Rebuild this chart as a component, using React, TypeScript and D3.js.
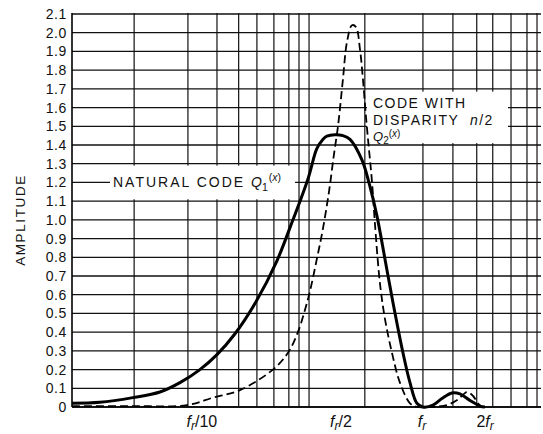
import React from "react";
import * as d3 from "d3";

// ---- data (frequency in units of f_r, amplitude) ----
const q1Freq = [0.0152, 0.0212, 0.0314, 0.0434, 0.0551, 0.0699, 0.0857, 0.106, 0.136, 0.175, 0.205, 0.254, 0.282, 0.303, 0.318, 0.35, 0.385, 0.419, 0.483, 0.531, 0.578, 0.636, 0.699, 0.788, 0.857, 0.931, 1.0, 1.127, 1.254, 1.413, 1.555, 1.753, 1.973, 2.095];
const q1Amp = [0.02, 0.025, 0.05, 0.08, 0.13, 0.2, 0.28, 0.39, 0.56, 0.78, 0.96, 1.22, 1.38, 1.43, 1.447, 1.455, 1.45, 1.43, 1.32, 1.18, 1.02, 0.79, 0.56, 0.29, 0.13, 0.02, 0.0, 0.01, 0.045, 0.075, 0.07, 0.035, 0.005, 0.0];

const q2Freq = [0.0152, 0.0303, 0.0599, 0.0817, 0.1127, 0.167, 0.2, 0.225, 0.245, 0.26, 0.282, 0.303, 0.326, 0.346, 0.363, 0.385, 0.404, 0.429, 0.45, 0.472, 0.489, 0.507, 0.525, 0.545, 0.564, 0.599, 0.636, 0.691, 0.76, 0.857, 0.931, 1.087, 1.33, 1.518, 1.69, 1.815, 1.928, 2.022];
const q2Amp = [0.005, 0.005, 0.01, 0.05, 0.09, 0.2, 0.29, 0.4, 0.52, 0.62, 0.79, 0.95, 1.15, 1.35, 1.5, 1.75, 1.95, 2.04, 2.03, 1.91, 1.75, 1.55, 1.38, 1.2, 0.98, 0.66, 0.47, 0.29, 0.13, 0.02, 0.0, 0.0, 0.01, 0.04, 0.08, 0.06, 0.02, 0.0];

const gridFreqs = [0.0319, 0.0606, 0.0857, 0.111, 0.138, 0.169, 0.202, 0.228, 0.257, 0.5, 1, 1.43, 1.9, 2.3, 2.86, 3.46, 3.9];
const yTickValues = [0, 0.1, 0.2, 0.3, 0.4, 0.5, 0.6, 0.7, 0.8, 0.9, 1.0, 1.1, 1.2, 1.3, 1.4, 1.5, 1.6, 1.7, 1.8, 1.9, 2.0, 2.1];
const yTickLabels = ["0", "0.1", "0.2", "0.3", "0.4", "0.5", "0.6", "0.7", "0.8", "0.9", "1.0", "1.1", "1.2", "1.3", "1.4", "1.5", "1.6", "1.7", "1.8", "1.9", "2.0", "2.1"];
const xLabelPos = [0.0716, 0.376, 0.988, 2.1];
const xLabelPrefix = ["", "", "", "2"];
const xLabelSuffix = ["/10", "/2", "", ""];

const W = 543;
const H = 434;
const FONT = "'Liberation Sans', Arial, sans-serif";

export default function App() {
  const x = d3.scaleLog().domain([0.0152, 4.09]).range([72, 541]);
  const y = d3.scaleLinear().domain([0, 2.1]).range([407, 14]);

  const line = d3
    .line<[number, number]>()
    .x((d) => x(d[0]))
    .y((d) => Math.min(y(d[1]), y(0)))
    .curve(d3.curveCatmullRom.alpha(0.5));

  const q1 = line(q1Freq.map((f, i) => [f, q1Amp[i]] as [number, number]));
  const q2 = line(q2Freq.map((f, i) => [f, q2Amp[i]] as [number, number]));

  const [x0, x1] = x.range();
  const [yb, yt] = y.range();

  return (
    <svg
      width={W}
      height={H}
      viewBox={`0 0 ${W} ${H}`}
      style={{ position: "fixed", left: 0, top: 0, background: "#fff" }}
    >
      <rect x={0} y={0} width={W} height={H} fill="#fff" />
      {/* horizontal grid */}
      {yTickValues.map((v) => (
        <line key={"h" + v} x1={x0} x2={x1} y1={y(v)} y2={y(v)} stroke="#111" strokeWidth={1.3} />
      ))}
      {/* vertical grid */}
      {gridFreqs.map((f) => (
        <line key={"v" + f} x1={x(f)} x2={x(f)} y1={yt - 1} y2={yb} stroke="#111" strokeWidth={1.2} />
      ))}
      {/* axes */}
      <line x1={x0} x2={x0} y1={yt - 1} y2={yb} stroke="#000" strokeWidth={1.6} />
      <line x1={x0} x2={x1} y1={yb} y2={yb} stroke="#000" strokeWidth={1.6} />

      {/* y tick labels */}
      {yTickValues.map((v, i) => (
        <text
          key={"yl" + v}
          x={67}
          y={y(v)}
          dy="0.36em"
          textAnchor="end"
          fontFamily={FONT}
          fontSize={14}
          letterSpacing={0.6}
          fill="#111"
        >
          {yTickLabels[i]}
        </text>
      ))}

      {/* y axis title */}
      <text
        transform={`translate(25,220) rotate(-90)`}
        textAnchor="middle"
        fontFamily={FONT}
        fontSize={13.5}
        letterSpacing={1.6}
        fill="#111"
      >
        AMPLITUDE
      </text>

      {/* x labels */}
      {xLabelPos.map((f, i) => (
        <text
          key={"xl" + i}
          x={x(f)}
          y={427}
          textAnchor="middle"
          fontFamily={FONT}
          fontSize={16}
          fill="#111"
        >
          {xLabelPrefix[i]}
          <tspan fontStyle="italic">f</tspan>
          <tspan fontStyle="italic" fontSize={12} dy={3}>r</tspan>
          <tspan dy={-3}>{xLabelSuffix[i]}</tspan>
        </text>
      ))}

      {/* label box: natural code */}
      <rect x={110} y={y(1.29)} width={185} height={y(1.11) - y(1.29)} fill="#fff" />
      <text x={113} y={y(1.2)} dy="0.36em" fontFamily={FONT} fontSize={14} letterSpacing={2}
        fill="#111">
        NATURAL CODE
      </text>
      <text x={251} y={y(1.2)} dy="0.36em" fontFamily={FONT} fontSize={14} fill="#111">
        <tspan fontStyle="italic">Q</tspan>
        <tspan fontSize={10.5} dy={4}>1</tspan>
        <tspan fontSize={10.5} dy={-10} dx={1}>(</tspan>
        <tspan fontSize={10.5} fontStyle="italic">x</tspan>
        <tspan fontSize={10.5}>)</tspan>
      </text>

      {/* label box: disparity code */}
      <rect x={367} y={y(1.685)} width={141} height={y(1.41) - y(1.685)} fill="#fff" />
      <text x={373} y={108} fontFamily={FONT} fontSize={14} letterSpacing={1.5} fill="#111">
        CODE WITH
      </text>
      <text x={373} y={125} fontFamily={FONT} fontSize={14} letterSpacing={1.5} fill="#111">
        DISPARITY
      </text>
      <text x={470} y={125} fontFamily={FONT} fontSize={14} letterSpacing={1.4} fill="#111">
        <tspan fontStyle="italic">n</tspan>/2
      </text>
      <text x={373} y={141} fontFamily={FONT} fontSize={13} fill="#111">
        <tspan fontStyle="italic">Q</tspan>
        <tspan fontSize={10} dy={3}>2</tspan>
        <tspan fontSize={10} dy={-7}>(</tspan>
        <tspan fontSize={10} fontStyle="italic">x</tspan>
        <tspan fontSize={10}>)</tspan>
      </text>

      {/* curves */}
      <path d={q2 || ""} fill="none" stroke="#000" strokeWidth={1.8} strokeDasharray="8,4" />
      <path d={q1 || ""} fill="none" stroke="#000" strokeWidth={3} strokeLinejoin="round" />
    </svg>
  );
}
